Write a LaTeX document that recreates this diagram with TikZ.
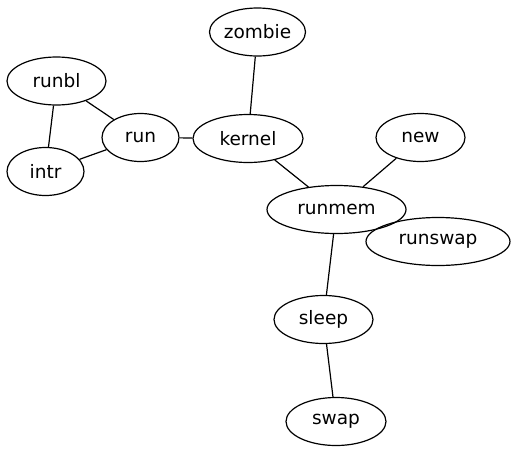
\documentclass[tikz,border=0pt]{standalone}
\usepackage{fontspec}
\setmainfont{DejaVu Sans}
\usetikzlibrary{shapes.geometric}
\begin{document}
\begin{tikzpicture}[x=1pt,y=-1pt,
  proc/.style={ellipse, draw, line width=1.2pt, inner sep=0pt,
    minimum height=48pt, font=\fontsize{18.5}{20}\selectfont},
  link/.style={draw, line width=1.2pt}]
\useasboundingbox (0,0) rectangle (517,453);
\node[proc, minimum width=96pt]  (zombie)  at (257.5,32)   {zombie};
\node[proc, minimum width=99pt]  (runbl)   at (56.5,81)    {runbl};
\node[proc, minimum width=77pt]  (run)     at (140.5,137.5){run};
\node[proc, minimum width=110pt] (kernel)  at (248,138.5)  {kernel};
\node[proc, minimum width=77pt]  (intr)    at (45.5,171.5) {intr};
\node[proc, minimum width=89pt]  (new)     at (420.5,137.5){new};
\node[proc, minimum width=139pt] (runmem)  at (336.5,209.5){runmem};
\node[proc, minimum width=144pt] (runswap) at (438,241.5)  {runswap};
\node[proc, minimum width=99pt]  (sleep)   at (323.5,319.5){sleep};
\node[proc, minimum width=100pt] (swap)    at (336,421.5)  {swap};
\draw[link] (runbl) -- (run);
\draw[link] (runbl) -- (intr);
\draw[link] (intr) -- (run);
\draw[link] (run) -- (kernel);
\draw[link] (kernel) -- (zombie);
\draw[link] (kernel) -- (runmem);
\draw[link] (new) -- (runmem);
\draw[link] (runmem) -- (sleep);
\draw[link] (sleep) -- (swap);
\end{tikzpicture}
\end{document}
